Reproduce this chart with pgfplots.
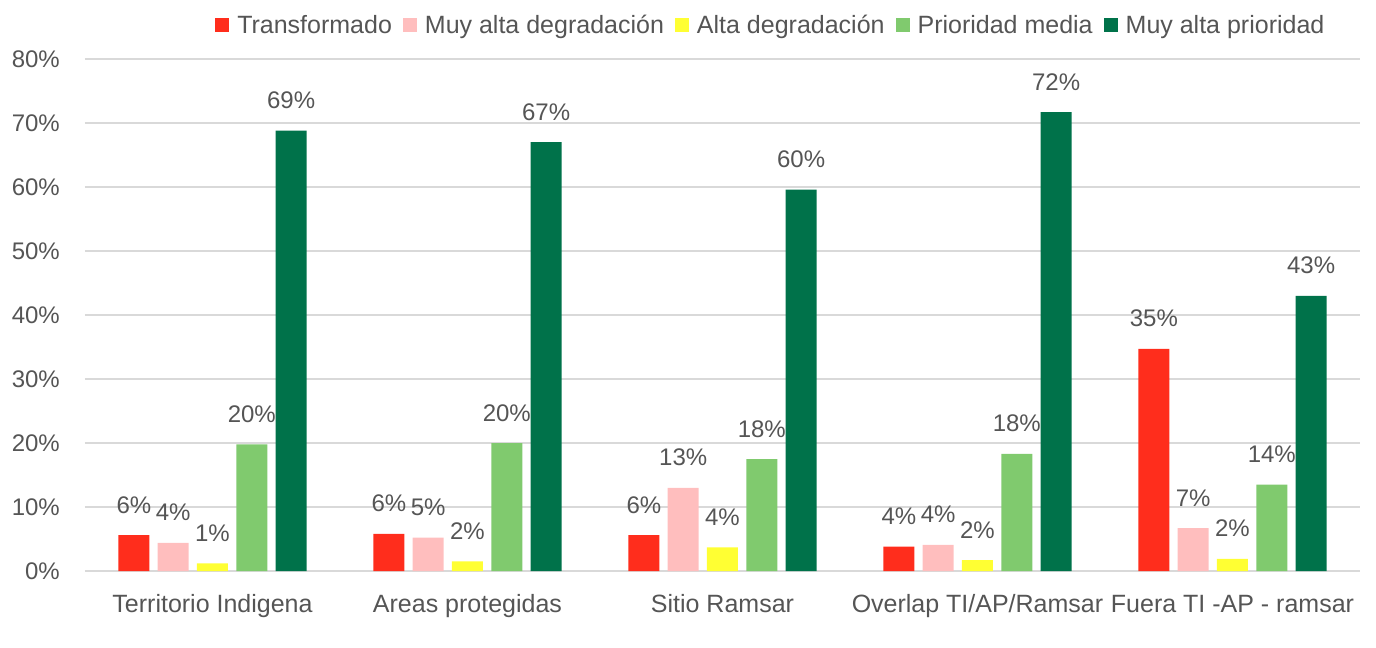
\documentclass[border=0pt]{standalone}
\usepackage{fontspec}
\setmainfont{Liberation Sans}
\usepackage{pgfplots}
\pgfplotsset{compat=1.18}
\definecolor{cRed}{RGB}{255,45,28}
\definecolor{cPink}{RGB}{255,190,190}
\definecolor{cYellow}{RGB}{255,255,51}
\definecolor{cLGreen}{RGB}{128,202,110}
\definecolor{cDGreen}{RGB}{0,114,74}
\definecolor{txtgray}{RGB}{85,85,85}
\definecolor{gridgray}{RGB}{217,217,217}
\newcommand\lf{\fontsize{24bp}{28bp}\selectfont}
\newcommand\tf{\fontsize{25bp}{29bp}\selectfont}
\begin{document}
\begin{tikzpicture}
\path (-85bp,-77bp) rectangle (1291bp,571bp);
\begin{axis}[
  scale only axis, width=1275bp, height=512bp,
  xmin=-0.5, xmax=4.5, ymin=0, ymax=80,
  clip=false,
  ybar=8.3bp, bar width=31bp,
  axis x line=bottom, axis y line=left,
  axis line style={draw=none,-},
  ymajorgrids, grid style={color=gridgray, line width=1.4bp},
  ytick={0,10,20,30,40,50,60,70,80},
  yticklabels={0\%,10\%,20\%,30\%,40\%,50\%,60\%,70\%,80\%},
  xtick={0,1,2,3,4},
  xticklabels={Territorio Indigena, Areas protegidas, Sitio Ramsar, Overlap TI/AP/Ramsar, Fuera TI -AP - ramsar},
  major tick length=0pt,
  tick label style={text=txtgray},
  yticklabel style={font=\lf, anchor=east, inner sep=0pt, xshift=-25bp},
  xticklabel style={font=\tf, anchor=base, inner sep=0pt, yshift=-41bp},
  point meta=explicit symbolic,
  nodes near coords,
  every node near coord/.append style={font=\lf, text=txtgray, anchor=base, inner sep=0pt, yshift=22bp},
  legend style={at={(axis description cs:0.102,1.067)}, anchor=west, draw=none, fill=none,
    inner sep=0pt, legend columns=-1,
    nodes={inner sep=0pt, font=\tf, text=txtgray},
    /tikz/every even column/.append style={column sep=11bp}},
  legend image code/.code={\fill[#1,draw=none] (0bp,-7bp) rectangle (14bp,7bp); \path (22bp,0bp);},
]
\addplot[fill=cRed,draw=none] coordinates {(0,5.6)[6\%] (1,5.8)[6\%] (2,5.6)[6\%] (3,3.8)[4\%] (4,34.7)[35\%]};
\addplot[fill=cPink,draw=none] coordinates {(0,4.4)[4\%] (1,5.2)[5\%] (2,13.0)[13\%] (3,4.1)[4\%] (4,6.7)[7\%]};
\addplot[fill=cYellow,draw=none] coordinates {(0,1.2)[1\%] (1,1.5)[2\%] (2,3.7)[4\%] (3,1.7)[2\%] (4,1.9)[2\%]};
\addplot[fill=cLGreen,draw=none] coordinates {(0,19.8)[20\%] (1,20.0)[20\%] (2,17.5)[18\%] (3,18.3)[18\%] (4,13.5)[14\%]};
\addplot[fill=cDGreen,draw=none] coordinates {(0,68.8)[69\%] (1,67.0)[67\%] (2,59.6)[60\%] (3,71.7)[72\%] (4,43.0)[43\%]};
\legend{Transformado, Muy alta degradación, Alta degradación, Prioridad media, Muy alta prioridad}
\end{axis}
\end{tikzpicture}
\end{document}
